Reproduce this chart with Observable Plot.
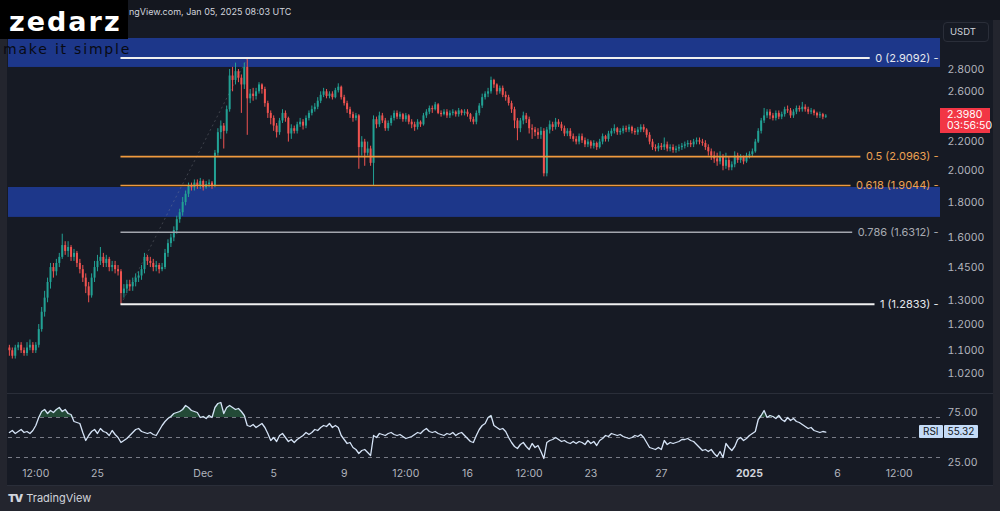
<!DOCTYPE html>
<html><head><meta charset="utf-8">
<script src="https://cdn.jsdelivr.net/npm/d3@7"></script>
<script src="https://cdn.jsdelivr.net/npm/@observablehq/plot@0.6"></script>
<style>
html,body{margin:0;padding:0;background:#23252e;}
#wrap{position:relative;width:1000px;height:511px;overflow:hidden;background:#23252e;font-family:Inter,"Noto Sans",sans-serif;}
#header{position:absolute;left:0;top:0;width:1000px;height:20px;background:#14171f;}
#stamp{position:absolute;left:129px;top:5px;font-size:9px;color:#d1d4dc;white-space:nowrap;line-height:13px;}
#chartbg{position:absolute;left:7px;top:20px;width:986px;height:466px;background:#161a24;}
.pane{position:absolute;left:0;}
.hline{position:absolute;left:7px;width:986px;height:1px;background:#2a2e39;}
#usdt{position:absolute;left:943px;top:22px;width:46px;height:20px;border:1px solid #2a2e39;border-radius:4px;box-sizing:border-box;font-size:9.5px;color:#d1d4dc;line-height:18px;padding-left:6px;}
#price{position:absolute;left:940px;width:50px;height:25px;background:#f23645;color:#fff;font-size:10.5px;line-height:11.5px;padding:1px 0 0 7px;box-sizing:border-box;}
#rsilab{position:absolute;left:919px;height:13px;font-size:10px;line-height:13px;color:#131722;display:flex;gap:1px;}
#rsilab span{background:#c4dbf7;padding:0 4px;border-radius:1px;}
#logo{position:absolute;left:0;top:0;width:128px;height:39px;background:#000;}
#logotext{position:absolute;left:9px;top:6px;font-family:"DejaVu Sans",sans-serif;font-weight:bold;font-size:27px;line-height:32px;letter-spacing:2px;color:#fff;}
#tagline{position:absolute;left:3px;top:41px;font-family:"DejaVu Sans",sans-serif;font-size:14px;line-height:16px;letter-spacing:1.8px;color:#080a12;white-space:nowrap;}
#tv{position:absolute;left:8px;top:491px;font-size:11px;color:#d1d4dc;line-height:14px;white-space:nowrap;}
#tv b{font-weight:900;letter-spacing:-1px;margin-right:4px;font-size:11px;}
</style></head>
<body>
<div id="wrap">
  <div id="header"><span id="stamp">ngView.com, Jan 05, 2025 08:03 UTC</span></div>
  <div id="chartbg"></div>
  <div id="main" class="pane" style="top:20px"></div>
  <div id="rsi" class="pane" style="top:393px"></div>
  <div class="hline" style="top:393px"></div>
  <div class="hline" style="top:485px"></div>
  <div id="usdt">USDT</div>
  <div id="price"></div>
  <div id="rsilab"><span>RSI</span><span id="rsival"></span></div>
  <div id="logo"><div id="logotext">zedarz</div></div>
  <div id="tagline">make it simple</div>
  <div id="tv"><b>TV</b>TradingView</div>
</div>
<script>
// ---------- DATA ----------
// 4-hour candles, first candle 2024-11-20 00:00 UTC
const firstOpen = 1.11;
const close = [
1.10,1.08,1.11,1.12,1.10,1.09,
1.11,1.12,1.10,1.12,1.18,1.25,
1.31,1.38,1.45,1.43,1.47,1.50,
1.56,1.53,1.55,1.50,1.52,1.47,
1.44,1.40,1.36,1.32,1.40,1.45,
1.48,1.50,1.47,1.49,1.45,1.46,
1.44,1.43,1.33,1.35,1.37,1.36,
1.38,1.40,1.41,1.44,1.50,1.48,
1.47,1.45,1.46,1.44,1.45,1.52,
1.57,1.60,1.64,1.70,1.74,1.80,
1.85,1.90,1.89,1.92,1.90,1.93,
1.89,1.91,1.92,1.90,2.12,2.27,
2.32,2.28,2.45,2.74,2.70,2.78,
2.72,2.66,2.82,2.54,2.58,2.56,
2.60,2.66,2.62,2.50,2.42,2.38,
2.32,2.27,2.36,2.42,2.38,2.26,
2.30,2.28,2.33,2.35,2.32,2.38,
2.42,2.45,2.47,2.52,2.57,2.60,
2.56,2.58,2.55,2.61,2.64,2.55,
2.50,2.45,2.41,2.38,2.40,2.16,
2.20,2.12,2.15,2.05,2.37,2.33,
2.40,2.36,2.30,2.34,2.38,2.42,
2.39,2.41,2.37,2.40,2.35,2.33,
2.31,2.35,2.33,2.40,2.43,2.46,
2.45,2.49,2.42,2.41,2.43,2.40,
2.42,2.43,2.41,2.44,2.42,2.43,
2.41,2.37,2.35,2.42,2.48,2.55,
2.58,2.60,2.70,2.66,2.60,2.63,
2.57,2.55,2.50,2.45,2.36,2.30,
2.36,2.40,2.37,2.30,2.29,2.27,
2.25,2.28,1.98,2.29,2.33,2.31,
2.35,2.33,2.30,2.26,2.28,2.24,
2.22,2.20,2.24,2.21,2.18,2.20,
2.17,2.19,2.16,2.20,2.24,2.22,
2.26,2.28,2.30,2.27,2.28,2.30,
2.29,2.31,2.28,2.27,2.29,2.31,
2.29,2.25,2.20,2.16,2.15,2.17,
2.16,2.18,2.15,2.16,2.14,2.15,
2.16,2.17,2.18,2.19,2.18,2.20,
2.21,2.20,2.19,2.16,2.13,2.10,
2.08,2.06,2.09,2.03,2.07,2.02,
2.04,2.10,2.07,2.09,2.06,2.10,
2.11,2.13,2.20,2.28,2.36,2.40,
2.43,2.40,2.38,2.42,2.39,2.41,
2.45,2.44,2.40,2.43,2.46,2.45,
2.47,2.45,2.43,2.44,2.42,2.40,
2.41,2.39,2.398];
const high = [
1.12,1.11,1.12,1.13,1.13,1.11,
1.13,1.14,1.13,1.13,1.20,1.27,
1.34,1.40,1.47,1.47,1.49,1.52,
1.62,1.58,1.58,1.56,1.54,1.53,
1.49,1.46,1.42,1.38,1.42,1.48,
1.51,1.55,1.52,1.51,1.50,1.48,
1.48,1.46,1.44,1.37,1.39,1.39,
1.40,1.42,1.43,1.46,1.52,1.51,
1.50,1.49,1.48,1.47,1.47,1.54,
1.59,1.62,1.66,1.72,1.76,1.83,
1.87,1.92,1.92,1.94,1.94,1.95,
1.94,1.93,1.94,1.93,2.14,2.30,
2.36,2.34,2.48,2.80,2.82,2.86,
2.80,2.75,2.86,2.91,2.62,2.63,
2.63,2.68,2.67,2.64,2.52,2.44,
2.40,2.34,2.38,2.45,2.44,2.39,
2.33,2.32,2.35,2.38,2.37,2.40,
2.44,2.48,2.50,2.55,2.60,2.63,
2.62,2.60,2.60,2.63,2.67,2.65,
2.57,2.52,2.47,2.43,2.42,2.41,
2.24,2.22,2.20,2.17,2.40,2.39,
2.43,2.42,2.38,2.36,2.40,2.44,
2.44,2.43,2.42,2.42,2.41,2.37,
2.35,2.37,2.36,2.42,2.45,2.48,
2.48,2.51,2.50,2.44,2.45,2.45,
2.44,2.45,2.44,2.46,2.45,2.45,
2.45,2.42,2.39,2.44,2.50,2.58,
2.60,2.63,2.73,2.71,2.67,2.65,
2.65,2.60,2.57,2.52,2.47,2.38,
2.38,2.43,2.42,2.39,2.33,2.31,
2.30,2.31,2.30,2.31,2.36,2.35,
2.38,2.37,2.35,2.32,2.30,2.30,
2.26,2.24,2.26,2.26,2.23,2.22,
2.21,2.21,2.20,2.22,2.26,2.25,
2.28,2.30,2.33,2.31,2.30,2.32,
2.32,2.33,2.32,2.30,2.31,2.33,
2.33,2.30,2.27,2.22,2.18,2.19,
2.19,2.23,2.20,2.18,2.18,2.17,
2.18,2.19,2.20,2.21,2.21,2.22,
2.23,2.23,2.22,2.21,2.18,2.15,
2.13,2.12,2.13,2.11,2.12,2.09,
2.06,2.13,2.12,2.11,2.10,2.12,
2.13,2.15,2.22,2.30,2.38,2.46,
2.45,2.45,2.42,2.44,2.44,2.43,
2.47,2.48,2.46,2.45,2.48,2.48,
2.51,2.49,2.47,2.46,2.45,2.43,
2.43,2.42,2.41];
const low = [
1.08,1.07,1.07,1.10,1.09,1.08,
1.08,1.10,1.09,1.09,1.11,1.17,
1.23,1.29,1.35,1.40,1.41,1.45,
1.49,1.51,1.50,1.48,1.48,1.45,
1.42,1.38,1.33,1.29,1.31,1.38,
1.43,1.46,1.45,1.45,1.43,1.43,
1.42,1.41,1.2833,1.31,1.33,1.34,
1.34,1.36,1.38,1.39,1.42,1.46,
1.45,1.43,1.43,1.42,1.43,1.44,
1.50,1.55,1.58,1.62,1.68,1.72,
1.78,1.83,1.87,1.87,1.88,1.88,
1.87,1.88,1.89,1.88,1.89,2.10,
2.22,2.15,2.26,2.43,2.60,2.66,
2.68,2.42,2.62,2.25,2.50,2.52,
2.53,2.58,2.58,2.47,2.38,2.33,
2.28,2.23,2.25,2.34,2.35,2.20,
2.22,2.26,2.26,2.31,2.29,2.30,
2.36,2.40,2.43,2.45,2.50,2.55,
2.54,2.54,2.53,2.54,2.59,2.53,
2.48,2.42,2.38,2.35,2.36,2.01,
2.10,2.03,2.10,2.03,1.90,2.30,
2.31,2.34,2.28,2.28,2.32,2.36,
2.37,2.37,2.35,2.35,2.33,2.30,
2.28,2.29,2.31,2.32,2.38,2.41,
2.42,2.44,2.41,2.39,2.40,2.38,
2.38,2.40,2.39,2.39,2.40,2.40,
2.39,2.35,2.33,2.33,2.40,2.46,
2.53,2.55,2.58,2.63,2.57,2.58,
2.55,2.52,2.48,2.42,2.30,2.21,
2.27,2.33,2.34,2.26,2.22,2.24,
2.22,2.22,1.96,1.96,2.26,2.28,
2.29,2.31,2.28,2.24,2.24,2.22,
2.20,2.18,2.18,2.19,2.16,2.16,
2.15,2.15,2.14,2.15,2.18,2.20,
2.20,2.24,2.26,2.25,2.25,2.26,
2.27,2.27,2.26,2.25,2.25,2.27,
2.27,2.23,2.18,2.14,2.13,2.13,
2.14,2.14,2.13,2.13,2.12,2.12,
2.13,2.14,2.15,2.16,2.16,2.16,
2.18,2.18,2.17,2.14,2.10,2.07,
2.05,2.03,2.04,2.00,2.01,2.00,
2.00,2.02,2.05,2.05,2.04,2.05,
2.08,2.09,2.12,2.19,2.26,2.34,
2.38,2.37,2.36,2.36,2.37,2.37,
2.39,2.42,2.38,2.38,2.41,2.43,
2.43,2.43,2.41,2.41,2.40,2.38,
2.38,2.37,2.38];
const rsi = [
55,57,54,56,58,55,56,54,57, 62,70,76,78, 74,77,75,78,80,76,78,74,73, 66,65,64, 55,47,
52,56,58,54,59,56,55,52,57,53,50, 45, 47,49,52,55,58,59, 56,55,54,55,53,52,
57,62,66,69,71,74,75, 76,78,82,80,77,76,75, 70,71,69,72,70, 80,84,85,74,80,
82,80,78,79,76, 72,62, 61,63,60,62,64,60, 54, 47,50,46,52,54,50,46,48,45,
48,50,52,55,53,55,58,57,60,62,61, 64,60,62, 60,52, 48,44,45,40,38,34, 37,38,35,32, 52,50,
54,53,52,54,55,53,52,53,51,49,50,51, 53,55,54,57,59,56,55, 56,54,53,52,54,53,55,52,54,55,52,
49,46,45, 52,58,62,64,70,72, 62,60,58,59, 56,50,45,41, 39,43,45,41,38,44, 40,42,36, 29, 45,47,48,50,
48,46,47,45,44,46,44,46,45,43,47,44,46,42,47,49, 52,51,54,53,52,53,51,50,49,50,52,51,53,50,45,
40,39,38,40,38, 47, 43,45,44,45,46,48,48,49,47,46, 43,40,37,38,36,38, 34,31,36,30, 44,40,37,41,48,
50,47,49,52,54, 56,68,72,77, 70,72,71,69,72,68, 66,70,67,69,66,65,63,61, 59,60,57,56,55,56,55.32];

const zoneLow  = [2.819, 1.713];
const zoneHigh = [3.104, 1.892];

const fibValues = [2.9092, 2.0963, 1.9044, 1.6312, 1.2833];
const fibLabels = ["0 (2.9092) -", "0.5 (2.0963) -", "0.618 (1.9044) -", "0.786 (1.6312) -", "1 (1.2833) -"];
const fibStart = new Date(Date.UTC(2024, 10, 26, 8));
const fibEnd = new Date(Date.UTC(2024, 11, 3, 12));

const priceTicks = [2.8, 2.6, 2.2, 2.0, 1.8, 1.6, 1.45, 1.3, 1.2, 1.1, 1.02];
const rsiTicks = [75, 25];
const rsiBands = [70, 50, 30];
const timeTickDates = ["2024-11-21T12:00Z","2024-11-25T00:00Z","2024-12-01T00:00Z","2024-12-05T00:00Z","2024-12-09T00:00Z","2024-12-12T12:00Z","2024-12-16T00:00Z","2024-12-19T12:00Z","2024-12-23T00:00Z","2024-12-27T00:00Z","2025-01-01T00:00Z","2025-01-06T00:00Z","2025-01-09T12:00Z"];
const timeTickLabels = ["12:00","25","Dec","5","9","12:00","16","12:00","23","27","2025","6","12:00"];
const countdown = "03:56:50";

// ---------- STYLE ----------
const UP = "#22a194", DOWN = "#ef5350";
const ZONE = "#1d378a";
const fibLineColor = ["#f0f0f0", "#f09a3e", "#f09a3e", "#a3a6ae", "#f0f0f0"];
const fibTextColor = ["#e6e8ee", "#eda152", "#eda152", "#a7aab2", "#e6e8ee"];
const fibWidth = [2, 1.6, 1.6, 1.5, 2];
const AXIS = "#b2b5be";

// ---------- BUILD ----------
const H4 = 4 * 3600 * 1000;
const T0 = Date.UTC(2024, 10, 20, 0);
const candles = close.map((c, i) => {
  const o = i === 0 ? firstOpen : close[i - 1];
  return {t: new Date(T0 + i * H4), o, c, h: Math.max(high[i], o, c), l: Math.min(low[i], o, c)};
});
const rsiData = rsi.map((v, i) => ({t: new Date(T0 + i * H4), v}));
const zones = zoneLow.map((lo, i) => ({lo, hi: zoneHigh[i]}));
const fibs = fibValues.map((v, i) => ({v, label: fibLabels[i], i}));
const timeTicks = timeTickDates.map((d, i) => ({t: new Date(d), label: timeTickLabels[i]}));

const X_DOMAIN = [new Date(Date.UTC(2024, 10, 19, 22, 48)), new Date(Date.UTC(2025, 0, 11, 20, 15))];
const ML = 8, MR = 60, W = 1000;
const xs = d3.scaleUtc().domain(X_DOMAIN).range([ML, W - MR]);

const ctx = document.createElement("canvas").getContext("2d");
ctx.font = "11px Inter";
const labelRight = W - MR - 2;
const lineEnd = (d) => xs.invert(labelRight - ctx.measureText(d.label).width - 5);

const main = Plot.plot({
  width: W, height: 373, marginLeft: ML, marginRight: MR, marginTop: 0, marginBottom: 0,
  style: {background: "transparent", fontFamily: "Inter, sans-serif", fontSize: "11px", overflow: "visible"},
  x: {type: "utc", domain: X_DOMAIN, axis: null},
  y: {type: "log", domain: [0.95429, 3.2950], axis: null},
  marks: [
    Plot.rect(zones, {x1: () => X_DOMAIN[0], x2: () => X_DOMAIN[1], y1: "lo", y2: "hi", fill: ZONE}),
    Plot.link([0], {x1: () => fibStart, y1: () => fibValues[4], x2: () => fibEnd, y2: () => fibValues[0],
      stroke: "#8a8d96", strokeOpacity: 0.35, strokeDasharray: "2,3"}),
    Plot.ruleX(candles, {x: "t", y1: "l", y2: "h", stroke: d => d.c >= d.o ? UP : DOWN, strokeWidth: 1}),
    Plot.ruleX(candles, {x: "t", y1: "o", y2: d => d.c === d.o ? d.c * 1.002 : d.c,
      stroke: d => d.c >= d.o ? UP : DOWN, strokeWidth: 2}),
    Plot.ruleY(fibs, {y: "v", x1: () => fibStart, x2: lineEnd, stroke: d => fibLineColor[d.i], strokeWidth: d => fibWidth[d.i]}),
    Plot.text(fibs, {x: () => X_DOMAIN[1], y: "v", text: "label", textAnchor: "end", dx: -2,
      fill: d => fibTextColor[d.i], fontSize: 11}),
    Plot.axisY({anchor: "right", ticks: priceTicks, tickSize: 0, tickPadding: 7, label: null,
      tickFormat: d => d.toFixed(4), fill: AXIS, fontSize: 10.5})
  ]
});
document.getElementById("main").appendChild(main);

const rsiPlot = Plot.plot({
  width: W, height: 92, marginLeft: ML, marginRight: MR, marginTop: 0, marginBottom: 20,
  style: {background: "transparent", fontFamily: "Inter, sans-serif", fontSize: "11px", overflow: "visible"},
  x: {type: "utc", domain: X_DOMAIN, axis: null},
  y: {domain: [22, 94], axis: null},
  marks: [
    Plot.areaY(rsiData, {x: "t", y1: 70, y2: d => Math.max(d.v, 70), fill: "#2f7a4a", fillOpacity: 0.5}),
    Plot.areaY(rsiData, {x: "t", y1: 30, y2: d => Math.min(d.v, 30), fill: "#8a2f36", fillOpacity: 0.45}),
    Plot.ruleY(rsiBands, {stroke: "#787b86", strokeDasharray: "4,4", strokeWidth: 1}),
    Plot.lineY(rsiData, {x: "t", y: "v", stroke: "#d5e3f6", strokeWidth: 1.3}),
    Plot.axisY({anchor: "right", ticks: rsiTicks, tickSize: 0, tickPadding: 7, label: null,
      tickFormat: d => d.toFixed(2), fill: AXIS, fontSize: 10.5}),
    Plot.text(timeTicks.filter(d => d.label !== "2025"), {x: "t", text: "label", frameAnchor: "bottom", dy: 11, fill: AXIS, fontSize: 10.5}),
    Plot.text(timeTicks.filter(d => d.label === "2025"), {x: "t", text: "label", frameAnchor: "bottom", dy: 11, fill: "#d1d4dc", fontSize: 10.5, fontWeight: "bold"})
  ]
});
document.getElementById("rsi").appendChild(rsiPlot);

// current price & RSI value labels, placed with the library's scales
const last = candles[candles.length - 1].c;
const py = 20 + main.scale("y").apply(last);
const priceEl = document.getElementById("price");
priceEl.style.top = (py - 8) + "px";
priceEl.innerHTML = last.toFixed(4) + "<br>" + countdown;
const lastRsi = rsi[rsi.length - 1];
const ry = 393 + rsiPlot.scale("y").apply(lastRsi);
const rl = document.getElementById("rsilab");
rl.style.top = (ry - 6.5) + "px";
document.getElementById("rsival").textContent = lastRsi.toFixed(2);
</script>
</body></html>
